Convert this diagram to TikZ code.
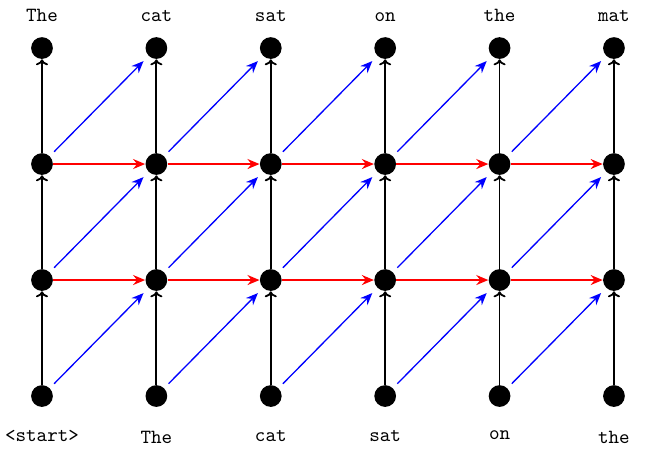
\documentclass[tikz,border=0pt]{standalone}
\usetikzlibrary{positioning,arrows.meta}

\begin{document}
\begin{tikzpicture}[
  state/.style={circle,fill=black,inner sep=0pt,minimum size=0.38cm},
  word/.style={font=\ttfamily,text=black},
  up/.style={black,line width=0.9pt,-{To[length=3pt,width=6pt]}},
  side/.style={red,line width=0.75pt,-{Stealth[length=6pt,width=5pt,inset=2pt]}},
  diag/.style={blue,line width=0.65pt,-{Stealth[length=6pt,width=5pt,inset=2pt]},shorten <=3pt,shorten >=3.5pt}]
\useasboundingbox (0,0) rectangle (11.364,8.06);

% grid of states
\foreach \i in {0,...,5}
  \foreach \j in {0,...,3}
    \node[state] (n\i\j) at (0.734+2*\i,1.136+2.028*\j) {};

% input and output words
\foreach \w [count=\i from 0] in {<start>,The,cat,sat,on,the}
  \node[word,below=0.287cm of n\i0] (b\i) {\w};
\foreach \w [count=\i from 0] in {The,cat,sat,on,the,mat}
  \node[word,above=0.148cm of n\i3] (t\i) {\w};

% connections
\foreach \i in {0,...,5}
  \foreach \j/\k in {0/1,1/2,2/3}
    \draw[up] (n\i\j) -- (n\i\k);
\foreach \i/\k in {0/1,1/2,2/3,3/4,4/5}
  \foreach \j in {1,2}
    \draw[side] (n\i\j) -- (n\k\j);
\foreach \i/\k in {0/1,1/2,2/3,3/4,4/5}
  \foreach \j/\m in {0/1,1/2,2/3}
    \draw[diag] (n\i\j) -- (n\k\m);

\end{tikzpicture}
\end{document}
